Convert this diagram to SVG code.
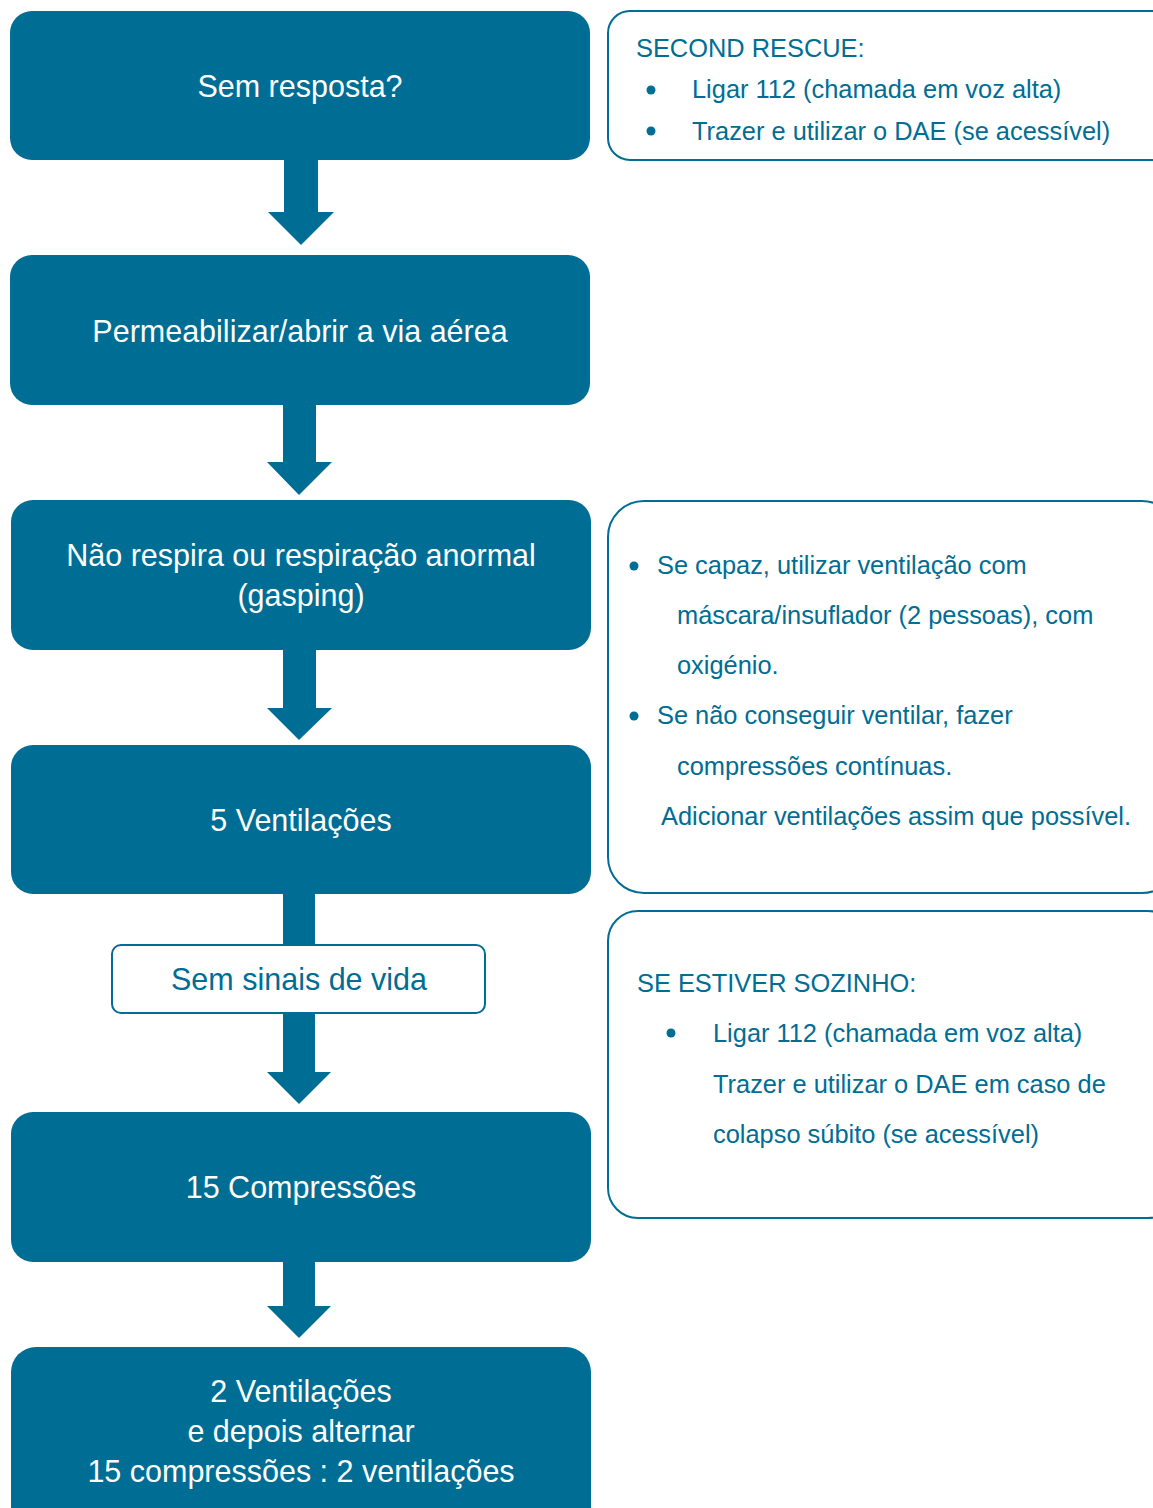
<svg xmlns="http://www.w3.org/2000/svg" width="1153" height="1508" viewBox="0 0 1153 1508">
<style>
.main{fill:#006d94;}
.mt{font-family:"Liberation Sans",Arial,sans-serif;font-size:30.5px;fill:#ffffff;text-anchor:middle;}
.side{fill:#ffffff;stroke:#006d94;stroke-width:2;}
.st{font-family:"Liberation Sans",Arial,sans-serif;font-size:25.4px;fill:#006d94;}
.bul{fill:#006d94;}
.arr{fill:#006d94;}
</style>
<rect width="1153" height="1508" fill="#ffffff"/>
<g id="connectors">
<path class="arr" d="M284,158 H318 V212 H334 L301,245 L268,212 H284 Z"/>
<path class="arr" d="M283,403 H316 V462 H332 L299,495 L267,462 H283 Z"/>
<path class="arr" d="M283,648 H316 V708 H332 L299,740 L267,708 H283 Z"/>
<path class="arr" d="M283,892 H315 V1072 H331 L299,1104 L267,1072 H283 Z"/>
<path class="arr" d="M283,1260 H315 V1306 H331 L299,1338 L267,1306 H283 Z"/>
</g>
<g id="n1"><rect class="main" x="10" y="11" width="580" height="149" rx="22"/><text class="mt" x="300" y="97">Sem resposta?</text></g>
<g id="n2"><rect class="main" x="10" y="255" width="580" height="150" rx="22"/><text class="mt" x="300" y="342">Permeabilizar/abrir a via aérea</text></g>
<g id="n3"><rect class="main" x="11" y="500" width="580" height="150" rx="22"/><text class="mt" x="301" y="566">Não respira ou respiração anormal</text><text class="mt" x="301" y="606">(gasping)</text></g>
<g id="n4"><rect class="main" x="11" y="745" width="580" height="149" rx="22"/><text class="mt" x="301" y="831">5 Ventilações</text></g>
<g id="n5"><rect class="side" x="112" y="945" width="373" height="68" rx="9"/><text class="mt" x="299" y="990" style="fill:#006d94">Sem sinais de vida</text></g>
<g id="n6"><rect class="main" x="11" y="1112" width="580" height="150" rx="22"/><text class="mt" x="301" y="1198">15 Compressões</text></g>
<g id="n7"><rect class="main" x="11" y="1347" width="580" height="190" rx="25"/><text class="mt" x="301" y="1402">2 Ventilações</text><text class="mt" x="301" y="1442">e depois alternar</text><text class="mt" x="301" y="1482">15 compressões : 2 ventilações</text></g>
<g id="s1"><rect class="side" x="608" y="11" width="570" height="149" rx="22"/>
<text class="st" x="636" y="57">SECOND RESCUE:</text>
<circle class="bul" cx="651" cy="90" r="4.5"/><text class="st" x="692" y="98">Ligar 112 (chamada em voz alta)</text>
<circle class="bul" cx="651" cy="131" r="4.5"/><text class="st" x="692" y="140">Trazer e utilizar o DAE (se acessível)</text></g>
<g id="s2"><rect class="side" x="608" y="501" width="570" height="392" rx="36"/>
<circle class="bul" cx="634" cy="566" r="4.5"/><text class="st" x="657" y="574">Se capaz, utilizar ventilação com</text>
<text class="st" x="677" y="624">máscara/insuflador (2 pessoas), com</text>
<text class="st" x="677" y="674">oxigénio.</text>
<circle class="bul" cx="634" cy="716" r="4.5"/><text class="st" x="657" y="724">Se não conseguir ventilar, fazer</text>
<text class="st" x="677" y="775">compressões contínuas.</text>
<text class="st" x="661" y="825">Adicionar ventilações assim que possível.</text></g>
<g id="s3"><rect class="side" x="608" y="911" width="570" height="307" rx="30"/>
<text class="st" x="637" y="992">SE ESTIVER SOZINHO:</text>
<circle class="bul" cx="671" cy="1033" r="4.5"/><text class="st" x="713" y="1042">Ligar 112 (chamada em voz alta)</text>
<text class="st" x="713" y="1093">Trazer e utilizar o DAE em caso de</text>
<text class="st" x="713" y="1143">colapso súbito (se acessível)</text></g>
</svg>
